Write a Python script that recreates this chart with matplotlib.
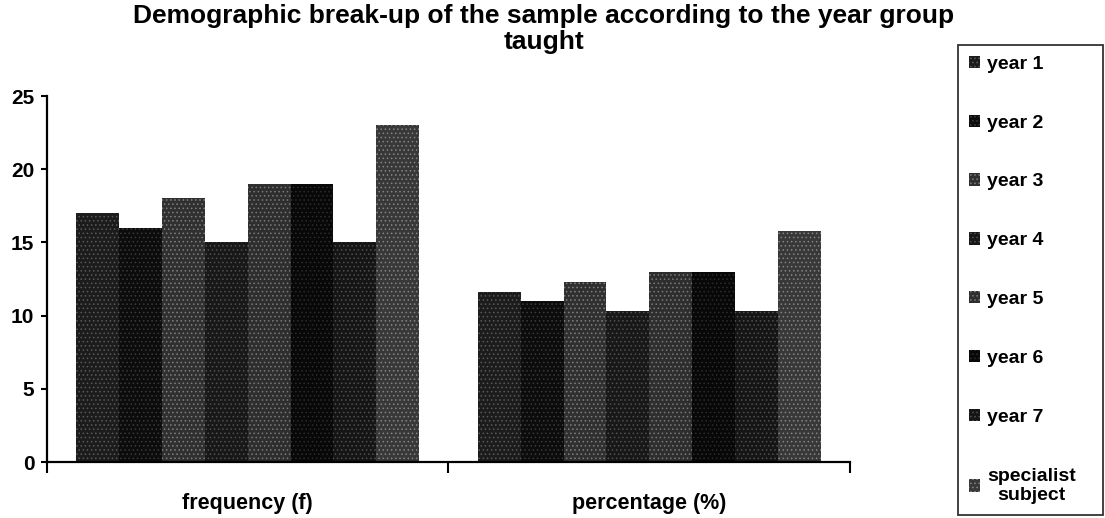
import numpy as np
import matplotlib
matplotlib.use('Agg')
import matplotlib.pyplot as plt

categories = ['frequency (f)', 'percentage (%)']
series = ['year 1', 'year 2', 'year 3', 'year 4', 'year 5', 'year 6', 'year 7',
          'specialist\nsubject']
frequency = [17, 16, 18, 15, 19, 19, 15, 23]
percentage = [11.6, 11.0, 12.3, 10.3, 13.0, 13.0, 10.3, 15.8]

# scanned look: dark fills with lighter speckle
faces = ['#1c1c1c', '#0c0c0c', '#303030', '#181818', '#2e2e2e', '#080808', '#151515', '#383838']
speckle = ['#5a5a5a', '#3a3a3a', '#808080', '#505050', '#7a7a7a', '#2c2c2c', '#505050', '#858585']

plt.rcParams['font.family'] = ['Liberation Sans', 'DejaVu Sans']
plt.rcParams['font.weight'] = 'bold'
plt.rcParams['hatch.linewidth'] = 0.6

fig = plt.figure(figsize=(11.05, 5.18), dpi=100)
ax = fig.add_axes([47 / 1105, 1 - 462 / 518, (850 - 47) / 1105, (462 - 96) / 518])

values = np.array([frequency, percentage])
n = len(series)
width = 0.1067
x = np.arange(len(categories)) + 0.5
for i in range(n):
    pos = x - width * n / 2 + width * (i + 0.5)
    ax.bar(pos, values[:, i], width, color=faces[i], edgecolor=speckle[i],
           linewidth=0, hatch='....', label=series[i])

ax.set_xlim(0, 2)
ax.set_ylim(0, 25)
ax.set_yticks([0, 5, 10, 15, 20, 25])
ax.set_xticks([0, 1, 2])
ax.set_xticklabels([])
ax.set_xticks(x, minor=True)
ax.set_xticklabels(categories, minor=True, fontsize=15.5, fontweight='bold')
ax.tick_params(axis='x', which='major', direction='out', length=8, width=1.5)
ax.tick_params(axis='x', which='minor', length=0, pad=22)
ax.tick_params(axis='y', direction='out', length=4, width=1.5, labelsize=15, pad=5)
for t in ax.get_yticklabels():
    t.set_fontweight('bold')
for s in ['top', 'right']:
    ax.spines[s].set_visible(False)
for s in ['left', 'bottom']:
    ax.spines[s].set_linewidth(1.6)

fig.text(544 / 1105, 1 - 29 / 518,
         'Demographic break-up of the sample according to the year group\ntaught',
         ha='center', va='center', fontsize=19, fontweight='bold', linespacing=1.15)

leg = fig.legend(loc='upper left', mode='expand',
                 bbox_to_anchor=(958 / 1105, 0, 145 / 1105, 1 - 45 / 518),
                 fontsize=14, frameon=True, fancybox=False, edgecolor='black',
                 handlelength=0.6, handleheight=0.6, handletextpad=0.35,
                 labelspacing=2.15, borderpad=0.55, borderaxespad=0)
leg.get_frame().set_linewidth(1.3)
for t in leg.get_texts():
    t.set_multialignment('center')

plt.savefig('out.png', dpi=100)
